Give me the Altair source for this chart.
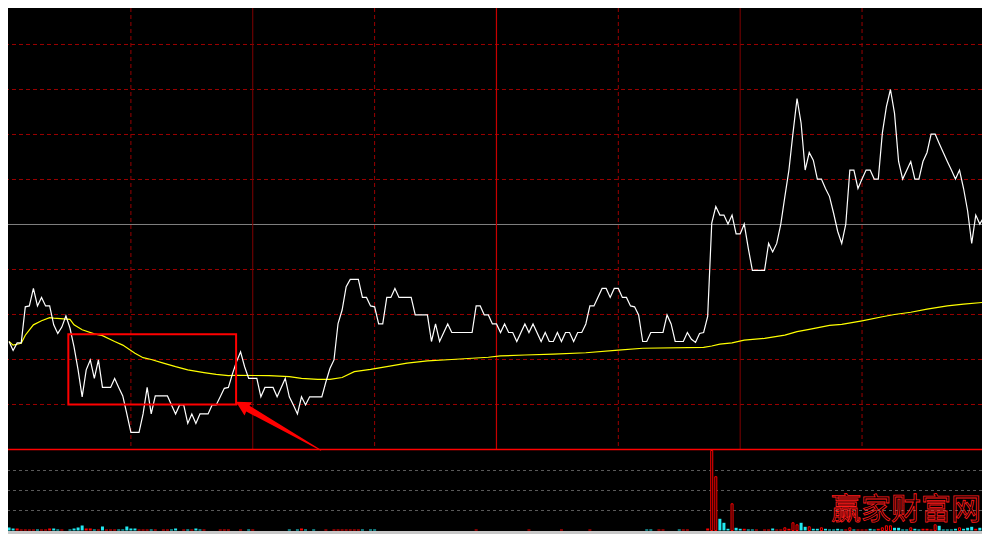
import math
import altair as alt
import pandas as pd

# ---------------- data (minute index 0..240, % change vs previous close) -------------
PRICE_MIN = [0, 1, 2, 3, 4, 5, 6, 7, 8, 9, 10, 11, 12, 13, 14, 15, 16, 17, 18, 19, 20, 21, 22, 23,
             25, 26, 27, 28, 29, 30, 32, 33, 34, 35, 36, 39, 40, 41, 42, 43, 44, 45, 46, 47, 49, 50,
             51, 52, 53, 54, 55, 56, 57, 58, 59, 61, 62, 63, 65, 66, 68, 69, 70, 71, 72, 73, 74, 77,
             78, 79, 80, 81, 82, 83, 84, 86, 87, 88, 89, 90, 91, 92, 93, 94, 95, 96, 99, 100, 103,
             104, 105, 106, 108, 109, 114, 115, 116, 117, 118, 119, 120, 121, 122, 123, 124, 125,
             127, 128, 129, 131, 132, 133, 134, 135, 136, 137, 138, 139, 140, 141, 142, 143, 144,
             146, 147, 148, 149, 150, 151, 152, 153, 154, 155, 156, 157, 158, 161, 162, 163, 164,
             166, 167, 168, 169, 170, 171, 172, 173, 174, 175, 176, 177, 178, 179, 180, 181, 182,
             183, 186, 187, 188, 189, 190, 191, 192, 193, 194, 195, 196, 197, 198, 199, 200, 201,
             202, 203, 204, 205, 206, 207, 208, 209, 210, 211, 212, 213, 214, 215, 216, 217, 218,
             219, 220, 222, 223, 224, 225, 226, 227, 228, 229, 230, 231, 232, 233, 234, 235, 236,
             237, 238, 239, 240]
PRICE_PCT = [-2.60, -2.80, -2.63, -2.63, -1.83, -1.81, -1.42, -1.81, -1.62, -1.81, -1.81, -2.23,
             -2.42, -2.28, -2.03, -2.30, -2.72, -3.23, -3.83, -3.23, -3.01, -3.42, -3.01, -3.62,
             -3.62, -3.42, -3.62, -3.81, -4.21, -4.62, -4.62, -4.21, -3.62, -4.21, -3.81, -3.81,
             -4.01, -4.21, -4.01, -4.01, -4.42, -4.21, -4.42, -4.21, -4.21, -4.01,
             -4.01, -3.83, -3.64, -3.62, -3.32, -3.05, -2.83, -3.16, -3.42, -3.42, -3.83, -3.62,
             -3.62, -3.83, -3.42, -3.83, -4.01, -4.21, -3.83, -4.01, -3.83, -3.83,
             -3.50, -3.20, -3.01, -2.20, -1.90, -1.38, -1.22, -1.22, -1.62, -1.62, -1.81, -1.83,
             -2.21, -2.21, -1.62, -1.62, -1.42, -1.62, -1.62, -2.01, -2.01,
             -2.60, -2.21, -2.60, -2.21, -2.40, -2.40, -1.81, -1.81, -2.01, -2.01, -2.21, -2.21,
             -2.40, -2.21, -2.40, -2.40, -2.60,
             -2.21, -2.40, -2.21, -2.60, -2.40, -2.60, -2.60, -2.40, -2.60, -2.40, -2.40, -2.60,
             -2.40, -2.40, -2.21, -1.81, -1.81,
             -1.42, -1.42, -1.62, -1.42, -1.42, -1.62, -1.62, -1.81, -1.83, -2.01, -2.60, -2.60,
             -2.40, -2.40, -2.01, -2.21, -2.60,
             -2.60, -2.40, -2.55, -2.62, -2.42, -2.40, -2.04, 0.03, 0.40, 0.21, 0.21, 0.01, 0.21,
             -0.21, -0.21, 0.01, -0.53,
             -1.02, -1.02, -0.42, -0.61, -0.42, 0.01, 0.62, 1.21, 2.03, 2.80, 2.25, 1.21, 1.60,
             1.43, 1.01, 1.01, 0.80,
             0.62, 0.25, -0.15, -0.42, 0.01, 1.21, 1.21, 0.80, 1.01, 1.21, 1.21, 1.01, 1.01, 2.03,
             2.62, 3.00, 2.47,
             1.40, 1.01, 1.40, 1.01, 1.01, 1.40, 1.60, 2.01, 2.01, 1.80, 1.60, 1.40, 1.21, 1.01,
             1.21, 0.80, 0.30,
             -0.42, 0.21, 0.01, 0.17]

AVG_MIN = [0, 1, 3, 4, 6, 8, 10, 11, 15, 16, 18, 21, 23, 26, 28, 31, 33, 35, 38, 41, 44, 48, 51,
           54, 56, 64, 69, 72, 76, 79, 82, 85, 89, 93, 98, 103, 109, 118, 121, 127, 134, 142, 150,
           156, 171, 173, 175, 178, 181, 186, 191, 194, 197, 202, 205, 210, 215, 218, 222, 226,
           231, 235, 240]
AVG_PCT = [-2.60, -2.68, -2.64, -2.46, -2.23, -2.14, -2.07, -2.08, -2.11, -2.23, -2.34, -2.43,
           -2.47, -2.60, -2.68, -2.86, -2.96, -3.00, -3.08, -3.16, -3.23, -3.29, -3.33, -3.36,
           -3.35, -3.36, -3.38, -3.42, -3.44, -3.44, -3.40, -3.27, -3.22, -3.16, -3.08, -3.03,
           -3.00, -2.95, -2.92, -2.90, -2.88, -2.85, -2.79, -2.75, -2.73, -2.70, -2.66, -2.63,
           -2.57, -2.53, -2.46, -2.38, -2.33, -2.24, -2.22, -2.14, -2.05, -2.00, -1.95, -1.88,
           -1.81, -1.77, -1.73]

# volume per minute (hands); "up" = red, "down" = cyan
VOL_MIN = [0, 1, 2, 3, 4, 5, 6, 7, 8, 9, 10, 11, 12, 13, 15, 16, 17, 18, 19, 20, 21, 22, 23, 24,
           25, 26, 27, 28, 29, 30, 31, 32, 33, 34, 35, 36, 38, 39, 40, 41, 43, 44, 45, 46, 47, 48,
           52, 53, 54, 57, 59, 60, 69, 71, 72, 73, 75, 78, 80, 81, 82, 83, 84, 85, 86, 87, 89, 90,
           115, 128, 136, 143, 157, 158, 160, 161, 165, 166, 167, 172, 173, 174, 175, 176, 177,
           178, 179, 180, 181, 182, 183, 184, 186, 187, 188, 189, 190, 191, 192, 193, 194, 195,
           196, 197, 198, 199, 200, 201, 202, 203, 204, 205, 206, 207, 208, 209, 210, 211, 212,
           213, 214, 215, 216, 217, 218, 219, 220, 221, 222, 223, 224, 225, 226, 227, 228, 229,
           230, 231, 232, 233, 234, 235, 236, 237, 238, 239, 240]
VOL_HANDS = [150, 100, 100, 50, 50, 50, 50, 50, 50, 50, 100, 100, 50, 50, 50, 100, 150, 250, 100,
             100, 50, 50, 200, 50, 50, 50, 50, 50, 200, 100, 100, 50, 50, 50, 50, 50, 50, 50, 50,
             100, 50, 50, 50, 100, 50, 50, 50, 50, 50, 50, 50, 50, 50, 50, 100, 50, 50, 50, 50, 50,
             50, 50, 50, 50, 50, 50, 50, 50,
             50, 50, 50, 50, 50, 50, 50, 50, 50, 50, 50, 100, 4000, 2690, 585, 385, 85,
             1335, 135, 85, 85, 50, 50, 50, 50, 50, 100, 50, 50, 135, 85, 385, 285, 385,
             185, 185, 85, 85, 135, 85, 50, 50, 85, 50, 50, 135, 50, 50, 50, 50, 85,
             50, 85, 135, 235, 235, 135, 135, 50, 50, 135, 85, 50, 85, 85, 50, 285, 235,
             50, 50, 50, 85, 135, 85, 135, 185, 85, 135, 335]
VOL_DIR = ["down", "down", "up", "up", "up", "up", "up", "down", "up", "up", "up", "down", "down",
           "up", "down", "down", "down", "down", "up", "up", "down", "up", "down", "up", "up",
           "up", "down", "down", "down", "down", "down", "up", "up", "up", "down", "up", "up",
           "up", "down", "down", "up", "down", "up", "down", "down", "up", "up", "up", "up", "up",
           "down", "up", "down", "down", "up", "down", "down", "up", "up", "up", "up", "up", "up",
           "up", "up", "down", "down", "down",
           "up", "up", "up", "up", "down", "down", "up", "up", "down", "up", "up", "up", "up",
           "up", "down", "down", "down", "up", "down", "down", "up", "down", "down", "up", "up",
           "up", "down", "up", "up", "up", "up", "up", "up", "down", "down", "up", "down", "down",
           "up", "down", "down", "down", "down", "down", "up", "up", "down", "up", "up", "up",
           "down", "down", "up", "up", "up", "up", "down", "down", "down", "down", "up", "down",
           "down", "up", "up", "up", "up", "down", "down", "down", "down", "down", "up", "down",
           "down", "down", "up", "down", "up"]

# annotation (red box and arrow) in minute / % units
BOX = {"m1": [14.6], "m2": [55.9], "v1": [-2.44], "v2": [-4.0]}
ARROW_TIP = (55.87, -3.94)
ARROW_TAIL = (76.6, -5.02)
WATERMARK = "赢家财富网"

# ---------------- layout -------------------------------------------------------------
W, H = 974, 526
PX_PER_MIN = 4.104
PX_PER_PCT = 45.0
X = alt.Scale(domain=[0.975, 0.975 + W / PX_PER_MIN], nice=False, zero=False)
YP = alt.Scale(domain=[-6.8778, 4.8111], nice=False, zero=False)
YV = alt.Scale(domain=[-175, 26125], nice=False, zero=False)


def xq(f):
    return alt.X(f, type="quantitative", scale=X, axis=None)


def yp(f):
    return alt.Y(f, type="quantitative", scale=YP, axis=None)


def yv(f):
    return alt.Y(f, type="quantitative", scale=YV, axis=None)


price = pd.DataFrame({"m": PRICE_MIN, "v": PRICE_PCT})
avg = pd.DataFrame({"m": AVG_MIN, "v": AVG_PCT})
vol = pd.DataFrame({"m": VOL_MIN, "q": VOL_HANDS, "dir": VOL_DIR})
vol["base"] = 0

hgrid = alt.Chart(pd.DataFrame({"v": [-4, -3, -2, -1, 1, 2, 3, 4]})).mark_rule(
    color="#9a0000", strokeDash=[4, 3], strokeWidth=1).encode(y=yp("v"))
zero = alt.Chart(pd.DataFrame({"v": [0]})).mark_rule(
    color="#808080", strokeWidth=1).encode(y=yp("v"))


def vlines(ms, color, dash=None, sw=1.0):
    df = pd.DataFrame({"m": ms, "top": 4.8111, "bot": -5.0})
    kw = dict(color=color, strokeWidth=sw)
    if dash:
        kw["strokeDash"] = dash
    return alt.Chart(df).mark_rule(**kw).encode(x=xq("m"), y=yp("top"), y2="bot")


vdash = vlines([30, 90, 150, 210], "#9a0000", [4, 3])
vsolid = vlines([60, 180], "#800000")
vcenter = vlines([120], "#c80000", sw=1.2)
bottom = alt.Chart(pd.DataFrame({"v": [-5.0]})).mark_rule(
    color="#ff0000", strokeWidth=1.5).encode(y=yp("v"))

vgrid = alt.Chart(pd.DataFrame({"q": [1000, 2000, 3000]})).mark_rule(
    color="#5a5a5a", strokeDash=[3, 3], strokeWidth=1).encode(y=yv("q"))
band = alt.Chart(pd.DataFrame({"a": [-25], "b": [-175]})).mark_rect(color="#c8c8c8").encode(
    x=alt.value(0), x2=alt.value(W), y=yv("a"), y2="b")

vbase = alt.Chart(vol)
v_down = vbase.transform_filter(alt.datum.dir == "down").mark_bar(
    color="#22e8f0", size=3, clip=True).encode(x=xq("m"), y=yv("q"), y2="base")
v_up_small = vbase.transform_filter((alt.datum.dir == "up") & (alt.datum.q <= 100)).mark_bar(
    color="#ff0000", size=3, clip=True).encode(x=xq("m"), y=yv("q"), y2="base")
v_up_big = vbase.transform_filter((alt.datum.dir == "up") & (alt.datum.q > 100)).mark_bar(
    fill="#000000", stroke="#ff0000", strokeWidth=1, size=2, clip=True).encode(
    x=xq("m"), y=yv("q"), y2="base")

avg_line = alt.Chart(avg).mark_line(color="#ffff00", strokeWidth=1.2, clip=True).encode(
    x=xq("m"), y=yp("v"))
price_line = alt.Chart(price).mark_line(color="#ffffff", strokeWidth=1.2, clip=True).encode(
    x=xq("m"), y=yp("v"))

box = alt.Chart(pd.DataFrame(BOX)).mark_rect(
    fillOpacity=0, stroke="#ff0000", strokeWidth=2).encode(
    x=xq("m1"), x2="m2", y=yp("v1"), y2="v2")

# arrow: a filled arrow glyph placed at its tip, pointing towards the tail
dx = (ARROW_TAIL[0] - ARROW_TIP[0]) * PX_PER_MIN
dy = (ARROW_TIP[1] - ARROW_TAIL[1]) * PX_PER_PCT
arrow_len = math.hypot(dx, dy)
arrow_angle = math.degrees(math.atan2(dy, dx))
ARROW_PATH = ("M0,0 L0.145,-0.078 L0.14,-0.034 L1,-0.005 L1,0.005 "
              "L0.14,0.034 L0.145,0.078 Z")
arrow = alt.Chart(pd.DataFrame({"m": [ARROW_TIP[0]], "v": [ARROW_TIP[1]]})).mark_point(
    shape=ARROW_PATH, filled=True, color="#ff0000", opacity=1, strokeWidth=0,
    size=(2 * arrow_len) ** 2, angle=arrow_angle).encode(x=xq("m"), y=yp("v"))

mark = alt.Chart(pd.DataFrame({"m": [220.8], "q": [1025], "t": [WATERMARK]})).mark_text(
    font="Noto Sans CJK SC", fontSize=30, fill="transparent",
    stroke="#ff1a1a", strokeWidth=0.8, align="center", baseline="middle").encode(
    x=xq("m"), y=yv("q"), text="t:N")

chart = alt.layer(
    hgrid, zero, vdash, vsolid, vcenter, vgrid, band,
    v_down, v_up_small, v_up_big,
    avg_line, price_line, bottom, box, arrow, mark
).resolve_scale(y="independent").properties(
    width=W, height=H,
    autosize=alt.AutoSizeParams(type="none", contains="padding"),
    padding=0, background="#000000"
).configure_view(stroke=None)

chart.save("out.html", embed_options={"renderer": "svg", "actions": False})
